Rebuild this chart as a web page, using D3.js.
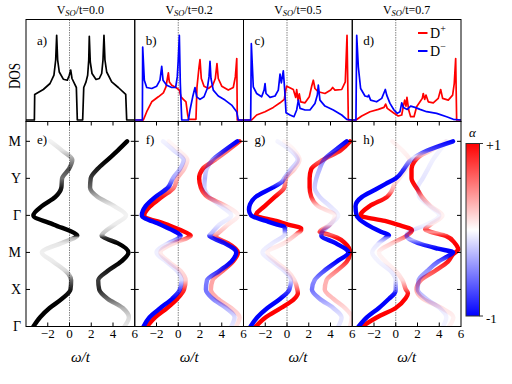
<!DOCTYPE html>
<html>
<head>
<meta charset="utf-8">
<script src="https://cdn.jsdelivr.net/npm/d3@7"></script>
<style>
  body { margin: 0; background: #fff; }
  svg text { font-family: "Liberation Serif", "Times New Roman", "DejaVu Serif", serif; fill: #000; }
</style>
</head>
<body>
<svg id="fig" width="512" height="384" font-family="Liberation Serif, serif"></svg>
<script>
// ---- data ----
var vsoValues = ['0.0', '0.2', '0.5', '0.7'];
var topLetters = ['a)', 'b)', 'c)', 'd)'];
var bottomLetters = ['e)', 'f)', 'g)', 'h)'];
var kLabels = ['Γ', 'X', 'M', 'Γ', 'Y', 'M'];
var wTicks = [-2, 0, 2, 4, 6];

// DOS curves: [omega/t, DOS]
var dosA = [[-4,0],[-3.23,0],[-3.2,0.256],[-2.41,0.305],[-1.79,0.365],[-1.43,0.448],[-1.27,0.6],[-1.18,0.846],[-1.09,0.6],[-0.94,0.48],[-0.57,0.408],[-0.2,0.398],[-0.02,0.448],[0.11,0.5],[0.23,0.415],[0.48,0.358],[0.63,0.325],[0.72,0],[1.21,0],[1.31,0.325],[1.52,0.381],[1.67,0.448],[1.77,0.6],[1.82,0.836],[1.91,0.58],[2.07,0.465],[2.44,0.405],[2.74,0.415],[2.96,0.465],[3.08,0.6],[3.17,0.846],[3.26,0.6],[3.42,0.48],[3.88,0.381],[4.49,0.325],[5.17,0.256],[5.26,0],[6,0]];
var dosBRed = [[-4,0],[-3.21,0],[-2.9,0.083],[-2.44,0.182],[-1.83,0.232],[-1.37,0.272],[-1.13,0.332],[-1.0,0.415],[-0.91,0.471],[-0.82,0.381],[-0.6,0.348],[-0.21,0.325],[0.1,0.299],[0.25,0.232],[0.47,0.206],[0.71,0.182],[0.87,0.05],[0.96,0.007],[1.63,0.007],[1.72,0.325],[1.91,0.53],[2.0,0.604],[2.12,0.415],[2.37,0.338],[2.77,0.315],[3.17,0.348],[3.41,0.415],[3.56,0.564],[3.68,0.415],[4.0,0.338],[4.6,0.299],[5.06,0.325],[5.25,0.431],[5.38,0.614],[5.43,0],[6,0]];
var dosBBlue = [[-4,0],[-3.3,0],[-3.27,0.729],[-3.12,0.398],[-2.9,0.325],[-2.44,0.315],[-1.98,0.338],[-1.68,0.398],[-1.52,0.537],[-1.4,0.398],[-1.06,0.348],[-0.6,0.325],[-0.24,0.325],[-0.09,0.431],[0.0,0.6],[0.1,0.846],[0.19,0.365],[0.32,0],[0.93,0],[1.08,0.1],[1.33,0.232],[1.54,0.325],[1.7,0.232],[2.0,0.206],[2.37,0.232],[2.67,0.315],[2.83,0.431],[2.92,0.587],[3.01,0.415],[3.22,0.299],[3.68,0.24],[4.3,0.199],[4.91,0.149],[5.37,0.083],[5.52,0],[6,0]];
var dosCRed = [[-4,0],[-3.25,0],[-2.79,0.05],[-2.02,0.083],[-1.26,0.126],[-0.64,0.172],[-0.25,0.206],[-0.12,0.299],[-0.03,0.338],[0.21,0.325],[0.58,0.305],[0.8,0.226],[0.89,0.305],[1.01,0.199],[1.13,0.262],[1.26,0.182],[1.66,0.172],[2.05,0.232],[2.27,0.338],[2.42,0.398],[2.57,0.315],[2.88,0.282],[3.49,0.265],[4.02,0.299],[4.2,0.325],[4.41,0.299],[5.03,0.305],[5.36,0.381],[5.52,0.846],[5.64,0],[6,0]];
var dosCBlue = [[-4,0],[-3.34,0],[-3.28,0.763],[-3.1,0.332],[-2.79,0.265],[-2.33,0.232],[-2.11,0.299],[-2.02,0.365],[-1.93,0.265],[-1.56,0.226],[-1.1,0.24],[-0.8,0.299],[-0.64,0.458],[-0.52,0.371],[-0.34,0.491],[-0.21,0.299],[-0.09,0.073],[0.28,0.05],[0.64,0.033],[0.89,0.1],[1.04,0.199],[1.2,0.116],[1.66,0.1],[2.11,0.1],[2.57,0.166],[2.79,0.249],[2.88,0.348],[3.03,0.199],[3.49,0.139],[4.26,0.1],[5.03,0.05],[5.49,0.007],[5.95,0],[6,0]];
var dosDRed = [[-4,0],[-3.66,0],[-3.13,0.04],[-2.37,0.083],[-1.6,0.106],[-1.08,0.126],[-0.93,0.159],[-0.78,0.116],[-0.22,0.073],[0.23,0.04],[0.55,0.05],[0.7,0.139],[0.82,0.199],[0.94,0.139],[1.03,0.226],[1.19,0.1],[1.37,0.033],[1.68,0.033],[1.92,0.133],[2.23,0.182],[2.44,0.216],[2.53,0.265],[2.66,0.206],[2.78,0.249],[2.99,0.182],[3.45,0.172],[3.91,0.216],[4.13,0.305],[4.31,0.216],[4.83,0.199],[5.23,0.249],[5.38,0.365],[5.51,0.614],[5.6,0],[6,0]];
var dosDBlue = [[-4,0],[-3.66,0],[-3.59,0.846],[-3.44,0.53],[-3.23,0.315],[-2.83,0.24],[-2.58,0.232],[-2.49,0.249],[-2.31,0.199],[-1.76,0.182],[-1.29,0.216],[-1.08,0.272],[-0.96,0.305],[-0.83,0.249],[-0.53,0.166],[-0.16,0.1],[0.14,0.066],[0.39,0.083],[0.55,0.172],[0.7,0.126],[1.06,0.106],[1.37,0.139],[1.77,0.126],[2.23,0.106],[2.84,0.083],[3.76,0.066],[4.68,0.033],[5.29,0.007],[6,0]];

// band curves: [k along path, omega/t, weight]  (weight < 0 blue, > 0 red, panel e grey level)
var bandELow = [[0,-3.32,1],[0.25,-2.7,1],[0.5,-1.83,1],[0.75,-0.68,1],[1,0.09,0.9],[1.25,0.15,0.6],[1.4,-0.05,0.3],[1.5,-0.37,0.15],[1.75,-1.5,0.08],[2,-2.54,0.06],[2.25,-0.75,0.1],[2.4,0.5,0.3],[2.45,0.72,0.9],[2.5,0.56,1],[2.75,-1.43,1],[3,-3.32,1],[3.25,-2.54,1],[3.5,-1.3,1],[3.75,-0.75,0.9],[4,-0.68,0.55],[4.25,-0.06,0.7],[4.5,0.26,0.4],[4.75,-0.68,0.12],[5,-1.77,0.05]];
var bandEUp = [[0,5.05,0.1],[0.25,5.46,0.15],[0.5,4.9,0.3],[0.75,3.5,0.6],[1,2.73,0.85],[1.25,2.64,0.75],[1.5,3.5,0.9],[1.75,4.74,1],[2,5.42,1],[2.25,4.43,1],[2.4,3.2,0.8],[2.45,2.95,0.5],[2.5,3.04,0.25],[2.75,4.12,0.08],[3,5.2,0.05],[3.25,4.12,0.08],[3.5,2.57,0.3],[3.75,1.89,0.6],[4,1.95,0.75],[4.25,2.57,0.9],[4.5,3.5,1],[4.75,4.43,1],[5,5.3,1]];

var bandFLowRed = [[0,-2.88,1],[0.25,-2.1,1],[0.5,-1.02,1],[0.75,-0.09,1],[1,0.53,0.8],[1.25,0.68,0.2],[1.5,0.22,0.15],[1.75,-0.87,0.1],[2,-1.64,0.08],[2.25,-0.4,0.15],[2.4,0.9,0.6],[2.45,1.15,0.9],[2.5,0.95,1],[2.75,-1.02,1],[3,-3.13,1],[3.25,-2.57,1],[3.5,-1.49,0.9],[3.75,-0.4,0.5],[4,-0.09,0.3],[4.25,0.53,0.2],[4.5,0.84,0.1],[4.75,0.06,0.05],[5,-0.87,0.03]];
var bandFLowBlue = [[0,-3.19,-1],[0.25,-2.64,-1],[0.5,-1.64,-1],[0.75,-0.56,-1],[1,0.15,-0.7],[1.25,0.3,-0.15],[1.5,-0.1,-0.1],[1.75,-1.1,-0.08],[2,-2.0,-0.06],[2.25,-0.9,-0.1],[2.4,0.1,-0.5],[2.45,0.22,-0.9],[2.5,0.05,-1],[2.75,-1.64,-1],[3,-3.35,-1],[3.25,-3.0,-1],[3.5,-2.1,-1],[3.75,-0.95,-0.9],[4,-0.5,-0.35],[4.25,0.15,-0.25],[4.5,0.5,-0.2],[4.75,-0.4,-0.1],[5,-1.4,-0.05]];
var bandFUpRed = [[0,5.33,0.1],[0.25,5.64,0.15],[0.5,4.87,0.2],[0.75,3.63,0.3],[1,3.0,0.35],[1.25,3.16,0.35],[1.5,4.09,0.6],[1.75,5.02,0.9],[2,5.49,1],[2.25,4.56,0.9],[2.4,3.5,0.7],[2.45,3.32,0.5],[2.5,3.57,0.3],[2.75,4.56,0.1],[3,5.49,0.05],[3.25,4.4,0.1],[3.5,2.7,0.6],[3.75,2.08,0.9],[4,1.92,1],[4.25,2.23,0.9],[4.5,3.4,0.5],[4.75,4.55,0.6],[5,5.64,0.9]];
var bandFUpBlue = [[0,4.87,-0.1],[0.25,5.18,-0.15],[0.5,4.4,-0.3],[0.75,3.16,-0.5],[1,2.54,-0.55],[1.25,2.64,-0.5],[1.5,3.78,-0.8],[1.75,4.87,-1],[2,5.33,-1],[2.25,4.25,-0.9],[2.4,3.1,-0.85],[2.45,2.85,-0.7],[2.5,3.0,-0.3],[2.75,3.78,-0.1],[3,4.87,-0.05],[3.25,3.94,-0.1],[3.5,2.85,-0.12],[3.75,2.4,-0.2],[4,2.45,-0.3],[4.25,2.6,-0.2],[4.5,3.16,-0.4],[4.75,4.25,-0.85],[5,5.43,-1]];

var bandGLowRed = [[0,-2.88,1],[0.25,-1.95,1],[0.5,-0.56,1],[0.75,0.68,1],[0.9,1.0,0.9],[1,0.95,0.6],[1.25,0.68,0.15],[1.5,0.06,0.1],[1.75,-1.02,0.08],[2,-1.8,0.05],[2.25,-0.25,0.1],[2.5,0.9,0.3],[2.6,1.3,0.9],[2.65,1.3,1],[2.75,0.1,1],[2.85,-1.0,1],[3,-2.88,1],[3.25,-2.05,1],[3.5,-1.12,1],[3.75,-0.25,0.6],[4,-0.09,0.3],[4.25,0.68,0.15],[4.5,1.15,0.1],[4.75,0.68,0.05],[5,-0.25,0.03]];
var bandGLowBlue = [[0,-3.35,-1],[0.25,-2.73,-1],[0.5,-1.8,-1],[0.75,-0.62,-1],[1,0.22,-0.7],[1.25,0.37,-0.15],[1.5,-0.25,-0.1],[1.75,-1.33,-0.08],[2,-2.26,-0.06],[2.25,-1.33,-0.08],[2.5,-0.2,-0.15],[2.65,-0.2,-0.8],[2.7,-0.3,-1],[2.75,-0.9,-1],[2.85,-1.92,-1],[3,-3.3,-1],[3.15,-3.5,-1],[3.3,-3.4,-1],[3.5,-2.88,-1],[3.75,-1.33,-1],[3.9,-0.5,-0.6],[4,-0.25,-0.3],[4.25,0.37,-0.2],[4.5,0.99,-0.15],[4.75,0.37,-0.08],[5,-0.87,-0.04]];
var bandGUpRed = [[0,5.8,0.1],[0.25,5.95,0.1],[0.5,5.33,0.15],[0.75,4.25,0.25],[1,3.47,0.3],[1.25,3.63,0.3],[1.5,4.56,0.5],[1.75,5.49,0.8],[2,5.8,1],[2.25,5.33,1],[2.4,4.6,0.9],[2.5,3.63,0.6],[2.55,3.0,0.8],[2.75,3.94,0.1],[3,4.4,0.05],[3.25,2.85,0.2],[3.5,2.23,0.8],[3.75,2.08,1],[4,2.08,1],[4.25,2.23,1],[4.5,3.3,0.6],[4.75,4.9,0.9],[5,5.8,1]];
var bandGUpBlue = [[0,4.71,-0.1],[0.25,5.02,-0.1],[0.5,4.25,-0.2],[0.75,3.0,-0.4],[1,2.29,-0.55],[1.25,2.54,-0.45],[1.5,3.41,-0.7],[1.75,4.56,-1],[2,5.64,-1],[2.25,4.47,-1],[2.45,3.16,-0.9],[2.5,3.16,-0.5],[2.75,3.94,-0.1],[3,4.71,-0.05],[3.25,3.94,-0.1],[3.5,3.0,-0.15],[3.75,2.54,-0.2],[4,2.7,-0.25],[4.25,3.0,-0.3],[4.5,3.4,-0.5],[4.75,4.4,-0.8],[5,5.49,-1]];

var bandHLowRed = [[0,-3.1,1],[0.25,-1.71,1],[0.5,0,1],[0.75,0.87,1],[0.9,1.12,0.9],[1,0.93,0.6],[1.25,0.62,0.15],[1.5,0,0.08],[1.75,-0.93,0.05],[2,-1.55,0.05],[2.25,-0.31,0.2],[2.45,1.0,0.6],[2.6,1.49,1],[2.75,0.16,1],[2.85,-1.0,1],[3,-3.26,1],[3.25,-2.4,1],[3.5,-0.8,0.9],[3.65,-0.4,0.4],[3.85,-0.1,0.15],[4,0.31,0.1],[4.25,0.93,0.08],[4.5,1.24,0.08],[4.75,0.62,0.05],[5,-0.31,0.05]];
var bandHLowBlue = [[0,-3.41,-1],[0.25,-2.64,-1],[0.5,-1.55,-1],[0.75,-0.62,-1],[0.9,-0.1,-0.9],[1,0,-0.5],[1.25,0,-0.1],[1.5,-0.47,-0.08],[1.75,-1.55,-0.05],[2,-2.17,-0.05],[2.25,-1.55,-0.1],[2.4,-0.9,-0.5],[2.46,-0.62,-1],[2.55,-1.3,-1],[2.75,-2.64,-1],[3,-3.6,-1],[3.25,-3.7,-1],[3.5,-3.1,-1],[3.7,-1.86,-1],[3.85,-0.93,-1],[4,0,-1],[4.25,0.75,-0.8],[4.45,1.24,-0.4],[4.6,1.9,-0.1],[4.75,2.9,-0.7],[5,5.27,-1]];
var bandHUpRed = [[0,4.9,0.05],[0.25,5.3,0.06],[0.5,4.2,0.1],[0.75,2.5,0.2],[1,1.9,0.35],[1.25,2.3,0.5],[1.5,3.6,0.7],[1.75,4.8,0.9],[1.95,5.27,1],[2.08,5.74,1],[2.25,5.43,1],[2.44,4.65,0.9],[2.55,3.3,0.4],[2.62,2.7,0.7],[2.75,3.2,0.1],[3,4.3,0.05],[3.25,3.2,0.1],[3.5,2.4,0.4],[3.7,2.0,0.9],[4,1.45,1],[4.25,1.45,1],[4.45,1.7,0.9],[4.6,2.2,0.3],[4.75,3.2,0.1],[5,4.6,0.05]];
var bandHUpBlue = [[0,4.34,-0.05],[0.25,4.65,-0.05],[0.5,4.03,-0.1],[0.75,2.79,-0.2],[1,2.02,-0.3],[1.25,2.1,-0.35],[1.5,2.9,-0.4],[1.75,3.9,-0.6],[1.9,4.8,-0.9],[2,5.27,-1],[2.1,3.9,-1],[2.22,2.4,-0.8],[2.35,1.3,-0.3],[2.45,1.0,-0.5],[2.55,1.2,-0.2],[2.75,2.8,-0.05],[3,4.0,-0.05],[3.25,3.1,-0.05],[3.5,2.17,-0.08],[3.75,2.02,-0.1],[4,2.48,-0.1],[4.25,2.95,-0.08],[4.5,3.41,-0.06],[4.75,4.03,-0.05],[5,4.65,-0.05]];

// ---- layout ----
var svg = d3.select('#fig');
var defs = svg.append('defs');
var left0 = 26, pw = 108.75;
var topY0 = 19.5, topY1 = 121.5, botY1 = 326.5;
var RED = '#ff0000', BLUE = '#0000ff';

var yDos = d3.scaleLinear().domain([0, 1.005]).range([120, topY0]);
var yBand = d3.scaleLinear().domain([0, 5.535]).range([botY1, topY1]);

var dosPanels = [
  [{pts: dosA, c: '#000'}],
  [{pts: dosBRed, c: RED}, {pts: dosBBlue, c: BLUE}],
  [{pts: dosCRed, c: RED}, {pts: dosCBlue, c: BLUE}],
  [{pts: dosDRed, c: RED}, {pts: dosDBlue, c: BLUE}]
];
var bandPanels = [
  [{pts: bandELow, c: '#000'}, {pts: bandEUp, c: '#000'}],
  [{pts: bandFLowRed, c: RED}, {pts: bandFUpRed, c: RED}, {pts: bandFLowBlue, c: BLUE}, {pts: bandFUpBlue, c: BLUE}],
  [{pts: bandGLowRed, c: RED}, {pts: bandGUpRed, c: RED}, {pts: bandGLowBlue, c: BLUE}, {pts: bandGUpBlue, c: BLUE}],
  [{pts: bandHLowRed, c: RED}, {pts: bandHUpRed, c: RED}, {pts: bandHLowBlue, c: BLUE}, {pts: bandHUpBlue, c: BLUE}]
];

function fmt(v) { return v < 0 ? '\u2212' + Math.abs(v) : String(v); }

vsoValues.forEach(function (vso, i) {
  var x0 = left0 + i * pw, x1 = x0 + pw;
  var x = d3.scaleLinear().domain([-4, 6]).range([x0, x1]);

  // clip paths
  defs.append('clipPath').attr('id', 'ct' + i).append('rect')
    .attr('x', x0).attr('y', topY0).attr('width', pw).attr('height', topY1 - topY0);
  defs.append('clipPath').attr('id', 'cb' + i).append('rect')
    .attr('x', x0).attr('y', topY1).attr('width', pw).attr('height', botY1 - topY1);

  // title
  var t = svg.append('text').attr('x', (x0 + x1) / 2).attr('y', 13.5)
    .attr('text-anchor', 'middle').style('font-size', '12px');
  t.append('tspan').text('V');
  t.append('tspan').attr('font-style', 'italic').style('font-size', '8.5px').attr('dy', 2).text('SO');
  t.append('tspan').attr('dy', -2).text('/t=' + vso);

  // zero lines
  svg.append('line').attr('x1', x(0)).attr('x2', x(0)).attr('y1', topY0).attr('y2', botY1)
    .attr('stroke', '#666').attr('stroke-width', 0.8).attr('stroke-dasharray', '1.5,1');

  // DOS
  var gTop = svg.append('g').attr('clip-path', 'url(#ct' + i + ')');
  var dosLine = d3.line().x(function (d) { return x(d[0]); }).y(function (d) { return yDos(d[1]); });
  dosPanels[i].forEach(function (s) {
    gTop.append('path').attr('d', dosLine(s.pts)).attr('fill', 'none')
      .attr('stroke', s.c).attr('stroke-width', 1.7).attr('stroke-linejoin', 'round');
  });

  // bands, coloured along k with a vertical gradient
  var gBot = svg.append('g').attr('clip-path', 'url(#cb' + i + ')');
  var bandLine = d3.line().x(function (d) { return x(d[1]); }).y(function (d) { return yBand(d[0]); })
    .curve(d3.curveMonotoneY);
  bandPanels[i].forEach(function (s, j) {
    var id = 'bg' + i + '_' + j;
    var grad = defs.append('linearGradient').attr('id', id)
      .attr('gradientUnits', 'userSpaceOnUse')
      .attr('x1', 0).attr('x2', 0).attr('y1', yBand(0)).attr('y2', yBand(5));
    grad.selectAll('stop').data(s.pts).join('stop')
      .attr('offset', function (d) { return d[0] / 5; })
      .attr('stop-color', s.c)
      .attr('stop-opacity', function (d) { return Math.abs(d[2]); });
    gBot.append('path').attr('d', bandLine(s.pts)).attr('fill', 'none')
      .attr('stroke', 'url(#' + id + ')').attr('stroke-width', 4.4)
      .attr('stroke-linecap', 'round');
  });

  // frames
  svg.append('rect').attr('x', x0).attr('y', topY0).attr('width', pw).attr('height', topY1 - topY0)
    .attr('fill', 'none').attr('stroke', '#000').attr('stroke-width', 1);
  svg.append('rect').attr('x', x0).attr('y', topY1).attr('width', pw).attr('height', botY1 - topY1)
    .attr('fill', 'none').attr('stroke', '#000').attr('stroke-width', 1);

  // ticks of the band panels
  [-2, 0, 2, 4].forEach(function (w) {
    svg.append('line').attr('x1', x(w)).attr('x2', x(w)).attr('y1', topY1).attr('y2', topY1 + 4)
      .attr('stroke', '#000').attr('stroke-width', 1);
    svg.append('line').attr('x1', x(w)).attr('x2', x(w)).attr('y1', botY1).attr('y2', botY1 - 4)
      .attr('stroke', '#000').attr('stroke-width', 1);
  });
  kLabels.forEach(function (lab, k) {
    svg.append('line').attr('x1', x0).attr('x2', x0 + 4).attr('y1', yBand(k)).attr('y2', yBand(k))
      .attr('stroke', '#000').attr('stroke-width', 1);
    svg.append('line').attr('x1', x1).attr('x2', x1 - 4).attr('y1', yBand(k)).attr('y2', yBand(k))
      .attr('stroke', '#000').attr('stroke-width', 1);
  });

  // tick labels and axis title
  wTicks.forEach(function (w) {
    svg.append('text').attr('x', x(w)).attr('y', 337.5).attr('text-anchor', 'middle')
      .style('font-size', '13px').text(fmt(w));
  });
  svg.append('text').attr('x', (x0 + x1) / 2).attr('y', 362).attr('text-anchor', 'middle')
    .attr('font-style', 'italic').style('font-size', '15px').text('ω/t');

  // panel letters
  svg.append('text').attr('x', x0 + 11).attr('y', 45).style('font-size', '13px').text(topLetters[i]);
  svg.append('text').attr('x', x0 + 11).attr('y', 144).style('font-size', '13px').text(bottomLetters[i]);
});

// k-path labels
kLabels.forEach(function (lab, k) {
  svg.append('text').attr('x', 21).attr('y', yBand(k)).attr('dy', '0.35em')
    .attr('text-anchor', 'end').style('font-size', '14px').text(lab);
});

// DOS label
svg.append('text').attr('transform', 'translate(19.5,76) rotate(-90) scale(0.82,1)')
  .attr('text-anchor', 'middle').style('font-size', '16px').text('DOS');

// legend
[{c: RED, s: '+', y: 33}, {c: BLUE, s: '\u2212', y: 51}].forEach(function (L) {
  svg.append('line').attr('x1', 418).attr('x2', 427.5).attr('y1', L.y).attr('y2', L.y)
    .attr('stroke', L.c).attr('stroke-width', 2);
  var t = svg.append('text').attr('x', 430).attr('y', L.y + 4.5).style('font-size', '14px');
  t.append('tspan').text('D');
  t.append('tspan').attr('dy', -6).style('font-size', '10px').text(L.s);
});

// colour bar
var cb = defs.append('linearGradient').attr('id', 'cbar').attr('x1', 0).attr('x2', 0).attr('y1', 0).attr('y2', 1);
[[0, RED], [0.5, '#ffffff'], [1, BLUE]].forEach(function (s) {
  cb.append('stop').attr('offset', s[0]).attr('stop-color', s[1]);
});
svg.append('rect').attr('x', 466).attr('y', 143.5).attr('width', 13.5).attr('height', 172.5)
  .attr('fill', 'url(#cbar)').attr('stroke', '#333').attr('stroke-width', 1);
[143.5, 316].forEach(function (y) {
  svg.append('line').attr('x1', 479.5).attr('x2', 483).attr('y1', y).attr('y2', y)
    .attr('stroke', '#333').attr('stroke-width', 1);
});
svg.append('text').attr('x', 486).attr('y', 150).style('font-size', '14px').text('+1');
svg.append('text').attr('x', 486).attr('y', 322.5).style('font-size', '13px').text('-1');
svg.append('text').attr('x', 472.5).attr('y', 137).attr('text-anchor', 'middle')
  .attr('font-style', 'italic').style('font-size', '13px').text('α');
</script>
</body>
</html>
